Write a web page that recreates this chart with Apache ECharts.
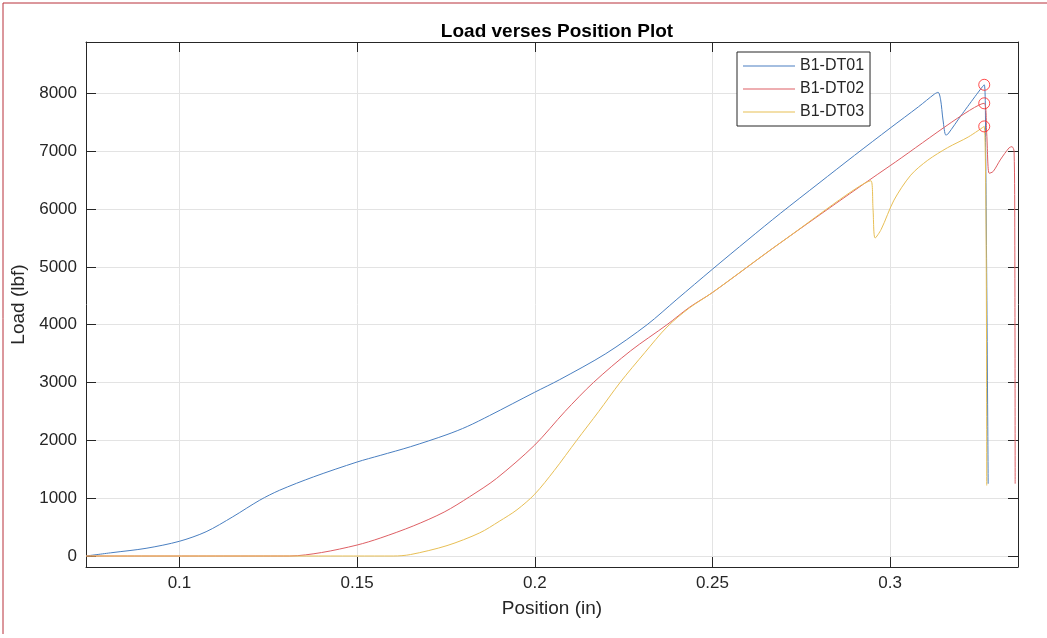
<!DOCTYPE html>
<html>
<head>
<meta charset="utf-8">
<title>Load verses Position Plot</title>
<script src="https://cdn.jsdelivr.net/npm/echarts@6/dist/echarts.min.js"></script>
<style>
  html, body { margin: 0; padding: 0; background: #fff; }
  #main { width: 1047px; height: 638px; }
</style>
</head>
<body>
<div id="main"></div>
<script>
var seriesNames = ['B1-DT01', 'B1-DT02', 'B1-DT03'];
var lineColors = ['#4a7fc1', '#de5f64', '#e8bf55'];

var posDT01 = [0.0737, 0.081, 0.0906, 0.1, 0.1075, 0.115, 0.1226, 0.1282, 0.1377, 0.15, 0.1565, 0.165, 0.1753, 0.181, 0.1873, 0.2, 0.207, 0.22, 0.2316, 0.24, 0.25, 0.26, 0.2692, 0.28, 0.29, 0.3, 0.308, 0.3125, 0.3135, 0.3142, 0.3149, 0.3157, 0.3163, 0.32, 0.3265, 0.3269, 0.3276];
var loadDT01 = [0, 58, 133, 255, 420, 678, 966, 1138, 1368, 1626, 1740, 1890, 2100, 2240, 2430, 2833, 3050, 3500, 4000, 4440, 4960, 5470, 5930, 6450, 6930, 7400, 7770, 7990, 8020, 7900, 7540, 7280, 7300, 7620, 8150, 7000, 1250];

var posDT02 = [0.0737, 0.131, 0.14, 0.15, 0.1565, 0.1658, 0.1745, 0.1816, 0.1892, 0.2, 0.2085, 0.2165, 0.227, 0.2372, 0.2435, 0.25, 0.2692, 0.3, 0.3265, 0.3272, 0.3279, 0.329, 0.331, 0.3335, 0.3343, 0.3349, 0.3351, 0.3352];
var loadDT02 = [0, 0, 60, 190, 310, 520, 760, 1023, 1340, 1920, 2500, 3000, 3550, 4000, 4300, 4557, 5420, 6750, 7830, 7300, 6620, 6650, 6850, 7060, 7080, 7000, 5500, 1250];

var posDT03 = [0.0737, 0.1602, 0.165, 0.1753, 0.1845, 0.19, 0.195, 0.2, 0.2055, 0.2118, 0.218, 0.224, 0.231, 0.2372, 0.2435, 0.25, 0.2692, 0.2946, 0.2952, 0.2958, 0.2975, 0.3011, 0.3058, 0.3106, 0.3162, 0.322, 0.3265, 0.3272];
var loadDT03 = [0, 0, 25, 180, 400, 600, 800, 1070, 1480, 2000, 2500, 3000, 3520, 3960, 4290, 4557, 5420, 6490, 6000, 5500, 5650, 6155, 6586, 6845, 7063, 7247, 7430, 1220];

var peakPos = [0.3265, 0.3265, 0.3265];
var peakLoad = [8150, 7830, 7430];

var xTicks = [0.1, 0.15, 0.2, 0.25, 0.3];
var yTicks = [0, 1000, 2000, 3000, 4000, 5000, 6000, 7000, 8000];
var xMin = 0.0737, xMax = 0.336;
var yMin = -190, yMax = 8890;

function pairs(xs, ys) {
  return xs.map(function (x, i) { return [x, ys[i]]; });
}

var axisColor = '#262626';
var fontFam = '"Liberation Sans", Arial, sans-serif';

var myChart = echarts.init(document.getElementById('main'));

var xBase = {
  type: 'value', min: xMin, max: xMax,
  axisLine: { show: true, onZero: false, lineStyle: { color: axisColor, width: 1 } },
  axisTick: { show: true, inside: true, length: 10, customValues: xTicks, lineStyle: { color: axisColor } },
  splitLine: { show: false }
};
var yBase = {
  type: 'value', min: yMin, max: yMax,
  axisLine: { show: true, onZero: false, lineStyle: { color: axisColor, width: 1 } },
  axisTick: { show: true, inside: true, length: 10, customValues: yTicks, lineStyle: { color: axisColor } },
  splitLine: { show: false }
};

var option = {
  backgroundColor: '#fff',
  animation: false,
  title: {
    text: 'Load verses Position Plot',
    left: 552, top: 17, textAlign: 'center',
    textStyle: { fontFamily: fontFam, fontSize: 19, fontWeight: 'bold', color: '#000' }
  },
  grid: { left: 86, right: 29, top: 42, bottom: 71, containLabel: false },
  legend: {
    data: seriesNames,
    orient: 'vertical',
    left: 737, top: 52,
    icon: 'rect',
    itemWidth: 52, itemHeight: 1, itemGap: 5,
    padding: [5, 6, 5, 6],
    backgroundColor: '#fff',
    borderColor: axisColor, borderWidth: 1, borderRadius: 0,
    textStyle: { fontFamily: fontFam, fontSize: 16, color: axisColor, lineHeight: 18 }
  },
  xAxis: [
    Object.assign({}, xBase, {
      position: 'bottom',
      name: 'Position (in)', nameLocation: 'middle', nameGap: 32,
      nameTextStyle: { fontFamily: fontFam, fontSize: 19, color: axisColor },
      axisLabel: {
        customValues: xTicks, margin: 8,
        fontFamily: fontFam, fontSize: 17, color: axisColor,
        formatter: function (v) { return String(+v.toFixed(2)); }
      },
      splitLine: { show: true, lineStyle: { color: '#e3e3e3', width: 1 } }
    }),
    Object.assign({}, xBase, { position: 'top', axisLabel: { show: false } })
  ],
  yAxis: [
    Object.assign({}, yBase, {
      position: 'left',
      name: 'Load (lbf)', nameLocation: 'middle', nameGap: 47,
      nameTextStyle: { fontFamily: fontFam, fontSize: 19, color: axisColor },
      axisLabel: {
        customValues: yTicks, margin: 9,
        fontFamily: fontFam, fontSize: 17, color: axisColor,
        formatter: function (v) { return String(v); }
      },
      splitLine: { show: true, lineStyle: { color: '#e3e3e3', width: 1 } }
    }),
    Object.assign({}, yBase, { position: 'right', axisLabel: { show: false } })
  ],
  graphic: [
    { type: 'line', silent: true, shape: { x1: 3, y1: 3, x2: 3, y2: 634 }, style: { stroke: '#b8303a', lineWidth: 1 } },
    { type: 'line', silent: true, shape: { x1: 3, y1: 3, x2: 1047, y2: 3 }, style: { stroke: '#b8303a', lineWidth: 1 } }
  ],
  series: [
    { name: seriesNames[0], type: 'line', data: pairs(posDT01, loadDT01), showSymbol: false, symbol: 'none',
      smooth: 0.3, color: lineColors[0], lineStyle: { width: 1, color: lineColors[0] }, z: 2 },
    { name: seriesNames[1], type: 'line', data: pairs(posDT02, loadDT02), showSymbol: false, symbol: 'none',
      smooth: 0.3, color: lineColors[1], lineStyle: { width: 1, color: lineColors[1] }, z: 3 },
    { name: seriesNames[2], type: 'line', data: pairs(posDT03, loadDT03), showSymbol: false, symbol: 'none',
      smooth: 0.3, color: lineColors[2], lineStyle: { width: 1, color: lineColors[2] }, z: 4 },
    { name: 'peak', type: 'scatter', data: pairs(peakPos, peakLoad), symbol: 'circle', symbolSize: 11,
      itemStyle: { color: 'rgba(0,0,0,0)', borderColor: '#ff2020', borderWidth: 1 }, z: 5 }
  ]
};

myChart.setOption(option);
</script>
</body>
</html>
